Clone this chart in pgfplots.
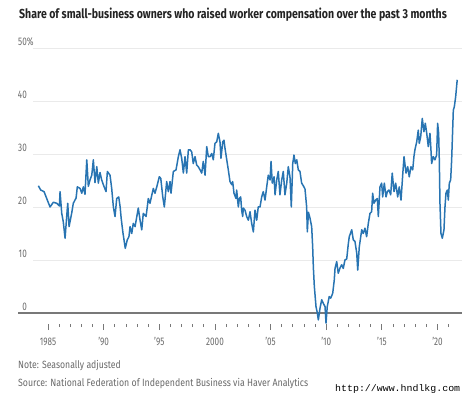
\documentclass[border=0pt]{standalone}
\usepackage{fontspec}
\setmainfont{Fira Sans}[FakeStretch=0.74]
\newfontfamily\wmfont{Liberation Mono}
\usepackage{graphicx}
\usepackage{pgfplots}
\pgfplotsset{compat=1.18}
\definecolor{wsjblue}{RGB}{40,116,178}
\definecolor{gridc}{RGB}{234,234,234}
\definecolor{labc}{RGB}{105,105,105}
\definecolor{basec}{RGB}{120,120,120}
\definecolor{titc}{RGB}{35,35,35}
\begin{document}
\begin{tikzpicture}
\path[use as bounding box] (-18bp,-70bp) rectangle (454bp,324bp);
\begin{axis}[
  scale only axis, width=444bp, height=276bp,
  xmin=1982.3, xmax=2022.2, ymin=-2.08, ymax=50,
  axis x line=bottom, axis y line=none,
  x axis line style={draw=none},
  xtick={1985,1990,...,2020},
  minor xtick={1986,...,2021},
  xtick align=outside,
  major tick length=6bp, minor tick length=3bp,
  every tick/.style={basec, line width=0.8bp},
  xticklabels={},
  ytick=\empty,
  clip=false,
]
\pgfplotsinvokeforeach{10,20,30,40,50}{
  \draw[gridc, line width=0.9bp] (axis cs:1983.65,#1) -- (axis cs:2022.2,#1);
}
\draw[basec, line width=1.2bp] (axis cs:1982.3,0) -- (axis cs:2022.2,0);
\addplot[wsjblue, line width=1.5bp, line join=round, mark=none] table {
year val
1984.13 24.0
1984.34 23.2
1984.64 22.9
1984.88 21.6
1985.18 20.0
1985.48 20.9
1985.78 20.7
1986.02 20.2
1986.08 22.9
1986.23 18.8
1986.37 17.2
1986.53 14.1
1986.68 18.3
1986.77 20.7
1986.89 16.3
1987.13 18.9
1987.27 20.7
1987.52 21.7
1987.63 23.8
1987.88 23.5
1988.03 22.6
1988.17 23.8
1988.32 22.4
1988.48 28.9
1988.62 23.9
1988.77 25.1
1988.93 26.0
1989.07 28.9
1989.22 24.6
1989.38 27.6
1989.52 24.5
1989.67 26.5
1989.82 25.1
1989.97 24.2
1990.21 22.9
1990.33 26.7
1990.57 26.0
1990.72 23.5
1990.87 20.0
1991.02 18.2
1991.17 21.6
1991.35 21.9
1991.48 20.0
1991.57 17.9
1991.72 15.3
1991.94 12.2
1992.12 13.8
1992.27 14.4
1992.37 16.3
1992.52 15.0
1992.66 16.9
1992.82 16.3
1993.11 19.8
1993.27 17.5
1993.42 15.7
1993.56 18.8
1993.81 18.2
1994.01 21.6
1994.16 20.7
1994.46 23.5
1994.61 22.6
1994.77 23.8
1995.00 25.7
1995.13 25.4
1995.31 21.9
1995.45 20.0
1995.66 24.8
1995.81 22.9
1995.96 24.8
1996.05 22.6
1996.26 26.7
1996.50 27.0
1996.71 29.5
1996.86 30.8
1997.01 29.2
1997.16 26.4
1997.31 29.5
1997.46 26.4
1997.61 30.8
1997.76 30.8
1997.91 30.4
1998.05 28.2
1998.21 29.5
1998.36 27.9
1998.50 27.6
1998.66 27.0
1998.81 26.4
1998.95 28.6
1999.11 26.0
1999.26 31.4
1999.40 29.5
1999.56 29.5
1999.71 30.1
1999.85 28.9
2000.00 32.0
2000.16 32.3
2000.30 33.9
2000.45 32.3
2000.54 29.2
2000.70 32.3
2000.81 32.6
2000.90 31.1
2001.06 28.9
2001.20 27.0
2001.35 24.8
2001.51 24.2
2001.59 24.8
2001.71 22.6
2001.89 21.6
2001.95 23.2
2002.10 20.0
2002.19 21.6
2002.31 21.9
2002.40 19.4
2002.49 18.2
2002.55 19.8
2002.70 19.4
2002.85 18.2
2003.00 17.5
2003.15 19.1
2003.30 16.9
2003.45 15.3
2003.60 19.4
2003.75 17.5
2003.89 20.0
2004.05 20.0
2004.20 21.9
2004.34 22.9
2004.50 21.3
2004.65 23.8
2004.79 26.0
2004.95 25.1
2005.04 28.6
2005.15 24.5
2005.31 25.7
2005.40 22.3
2005.55 25.1
2005.69 26.7
2005.84 22.3
2006.00 25.1
2006.14 26.7
2006.29 22.3
2006.45 24.5
2006.59 27.6
2006.74 25.7
2006.86 20.0
2006.99 28.2
2007.10 29.8
2007.22 28.2
2007.35 28.9
2007.49 27.0
2007.64 26.7
2007.79 24.5
2007.94 24.0
2008.09 23.4
2008.24 20.0
2008.30 15.3
2008.40 19.0
2008.54 17.9
2008.69 16.3
2008.78 12.5
2008.84 8.7
2008.93 5.0
2009.08 1.2
2009.20 0.0
2009.29 -1.3
2009.44 0.9
2009.59 2.5
2009.74 1.8
2009.89 1.2
2009.98 -1.9
2010.09 1.2
2010.27 3.1
2010.40 2.8
2010.58 3.7
2010.72 6.2
2010.79 8.4
2010.94 9.7
2011.08 7.5
2011.24 8.5
2011.39 9.1
2011.53 8.4
2011.68 10.0
2011.84 10.2
2011.98 13.0
2012.07 14.4
2012.29 15.7
2012.43 13.8
2012.58 13.5
2012.74 11.3
2012.83 8.1
2012.97 12.5
2013.19 15.7
2013.33 15.0
2013.48 16.0
2013.63 14.4
2013.78 16.9
2013.93 18.8
2014.08 19.1
2014.17 22.6
2014.29 20.7
2014.44 21.3
2014.59 21.6
2014.68 18.2
2014.83 23.8
2014.98 24.5
2015.07 21.9
2015.22 24.5
2015.37 21.9
2015.49 22.9
2015.64 23.2
2015.79 22.3
2015.93 26.4
2016.09 22.9
2016.24 24.5
2016.42 21.9
2016.56 23.8
2016.72 21.3
2016.87 26.0
2016.99 29.5
2017.17 26.4
2017.32 27.6
2017.46 25.7
2017.61 27.6
2017.77 27.0
2017.88 29.5
2017.97 30.8
2018.13 32.3
2018.27 34.5
2018.36 32.0
2018.49 33.3
2018.63 36.7
2018.78 34.2
2018.90 35.8
2019.03 33.9
2019.17 31.4
2019.32 33.9
2019.41 30.8
2019.47 28.2
2019.62 29.5
2019.77 28.9
2019.92 29.8
2020.01 35.8
2020.10 33.9
2020.16 28.9
2020.22 20.7
2020.31 15.0
2020.43 14.1
2020.58 15.7
2020.67 20.0
2020.76 22.6
2020.88 23.2
2020.97 21.3
2021.06 24.5
2021.18 25.1
2021.27 28.9
2021.42 38.3
2021.51 38.9
2021.63 40.8
2021.77 44.0
};
% y labels
\pgfplotsinvokeforeach{0,10,20,30,40}{
  \node[anchor=base east, inner sep=0, labc, font=\fontsize{11bp}{13bp}\selectfont] at (axis cs:1983.11,#1+0.45) {#1};
}
\node[anchor=base east, inner sep=0, labc, font=\fontsize{11bp}{13bp}\selectfont] at (axis cs:1983.11,50.45) {50\rlap{\%}};
% x labels
\pgfplotsinvokeforeach{1985/1985,1990/'90,1995/'95,2000/2000,2005/'05,2010/'10,2015/'15,2020/'20}{
}
\node[anchor=base, inner sep=0, labc, font=\fontsize{11bp}{13bp}\selectfont] at (axis cs:1985,-2.08) [yshift=-21.7bp] {1985};
\node[anchor=base, inner sep=0, labc, font=\fontsize{11bp}{13bp}\selectfont] at (axis cs:1990,-2.08) [yshift=-21.7bp] {’90};
\node[anchor=base, inner sep=0, labc, font=\fontsize{11bp}{13bp}\selectfont] at (axis cs:1995,-2.08) [yshift=-21.7bp] {’95};
\node[anchor=base, inner sep=0, labc, font=\fontsize{11bp}{13bp}\selectfont] at (axis cs:2000,-2.08) [yshift=-21.7bp] {2000};
\node[anchor=base, inner sep=0, labc, font=\fontsize{11bp}{13bp}\selectfont] at (axis cs:2005,-2.08) [yshift=-21.7bp] {’05};
\node[anchor=base, inner sep=0, labc, font=\fontsize{11bp}{13bp}\selectfont] at (axis cs:2010,-2.08) [yshift=-21.7bp] {’10};
\node[anchor=base, inner sep=0, labc, font=\fontsize{11bp}{13bp}\selectfont] at (axis cs:2015,-2.08) [yshift=-21.7bp] {’15};
\node[anchor=base, inner sep=0, labc, font=\fontsize{11bp}{13bp}\selectfont] at (axis cs:2020,-2.08) [yshift=-21.7bp] {’20};
\end{axis}
\node[anchor=base west, inner sep=0, titc] at (1bp,305bp) {\resizebox{427.7bp}{\height}{\fontsize{13bp}{15bp}\selectfont\bfseries Share of small-business owners who raised worker compensation over the past 3 months}};
\node[anchor=base west, inner sep=0, labc] at (0bp,-44bp) {\resizebox{102.7bp}{\height}{\fontsize{10.5bp}{12bp}\selectfont Note: Seasonally adjusted}};
\node[anchor=base west, inner sep=0, labc] at (0bp,-62bp) {\resizebox{290bp}{\height}{\fontsize{10.5bp}{12bp}\selectfont Source: National Federation of Independent Business via Haver Analytics}};
\node[anchor=base west, inner sep=0, black] at (317bp,-67bp) {\resizebox{125bp}{\height}{\wmfont\fontsize{9.5bp}{11bp}\selectfont http://www.hndlkg.com}};
\end{tikzpicture}
\end{document}
